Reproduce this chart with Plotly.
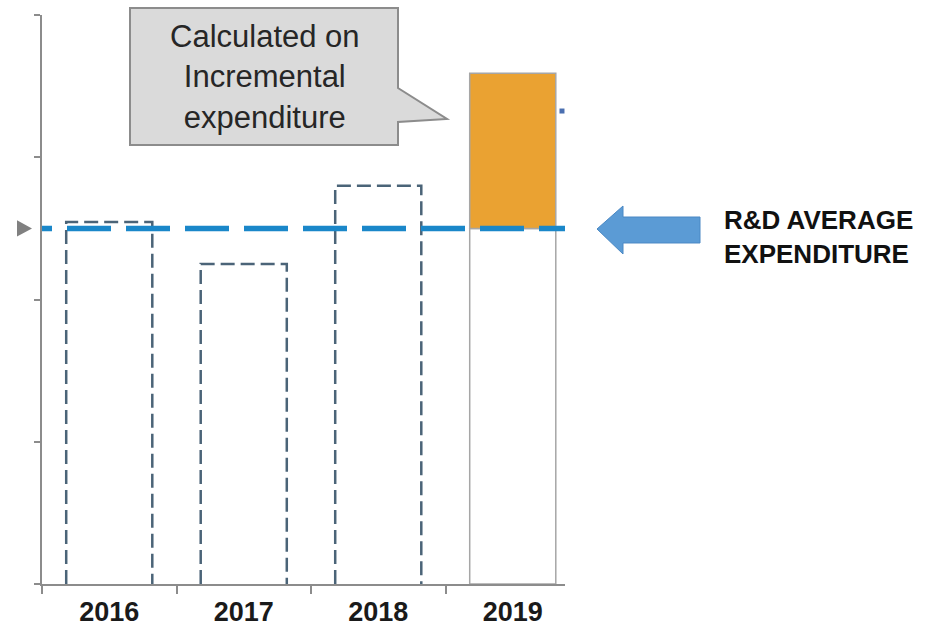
import plotly.graph_objects as go

# --- data -------------------------------------------------------------
years = ["2016", "2017", "2018", "2019"]
year_pos = [0, 1, 2, 3]
spend = [2.545, 2.25, 2.80, 3.59]          # R&D expenditure per year
average_spend = 2.50                       # R&D average expenditure
stub_x = [3.366]                           # small blue mark at the right edge
stub_y = [3.325]
y_ticks = [0, 1, 2, 3, 4]

# --- layout geometry (pixels) ----------------------------------------
W, H = 940, 627
ML, MR, MT, MB = 42, 375, 15, 43
PW, PH = W - ML - MR, H - MT - MB
X_MIN = -0.5
PX_PER_CAT = 134.5
X_MAX = X_MIN + PW / PX_PER_CAT
Y_MAX = 4
BAR_W = 0.64


def xp(px):
    return (px - ML) / PW


def yp(py):
    return (H - MB - py) / PH


def px_to_x(px):
    return X_MIN + (px - ML) / PX_PER_CAT


fig = go.Figure()

# dashed outlines for the prior years
for pos, val in zip(year_pos[:3], spend[:3]):
    x0, x1 = pos - BAR_W / 2, pos + BAR_W / 2
    fig.add_trace(go.Scatter(
        x=[x0, x0, x1, x1], y=[0, val, val, 0], mode="lines",
        line=dict(color="#4b6478", width=2.5, dash="14px,6px"),
        hoverinfo="skip", showlegend=False))

# 2019: base up to the average plus the incremental part on top
fig.add_trace(go.Bar(
    x=[year_pos[3]], y=[average_spend], width=BAR_W,
    marker=dict(color="white", line=dict(color="#a6a6a6", width=1.5)),
    showlegend=False))
fig.add_trace(go.Bar(
    x=[year_pos[3]], y=[spend[3] - average_spend], base=[average_spend],
    width=BAR_W,
    marker=dict(color="#eaa232", line=dict(color="#a6a6a6", width=1.5)),
    showlegend=False))

# average expenditure line (starts left of the axis so the dash phase lines up)
fig.add_trace(go.Scatter(
    x=[px_to_x(8), X_MAX], y=[average_spend, average_spend], mode="lines",
    line=dict(color="#1a87c9", width=5.5, dash="44px,15px"),
    hoverinfo="skip", showlegend=False))

fig.add_trace(go.Scatter(
    x=stub_x, y=stub_y, mode="markers",
    marker=dict(symbol="square", size=5, color="#4a6fb0"),
    cliponaxis=False, hoverinfo="skip", showlegend=False))

# grey pointer left of the y axis at the average level
avg_py = (H - MB) - average_spend / Y_MAX * PH
pointer = [(17, avg_py - 8), (32, avg_py), (17, avg_py + 8)]
pointer_path = "M " + " L ".join(f"{xp(a):.5f},{yp(b):.5f}" for a, b in pointer) + " Z"

# callout box with tail
callout = [(130, 8), (398, 8), (398, 88), (447, 119), (398, 122),
           (398, 145), (130, 145)]
callout_path = "M " + " L ".join(f"{xp(a):.5f},{yp(b):.5f}" for a, b in callout) + " Z"

# block arrow pointing at the average line
arrow = [(597, 229), (623, 206), (623, 217), (700, 217), (700, 243),
         (623, 243), (623, 254)]
arrow_path = "M " + " L ".join(f"{xp(a):.5f},{yp(b):.5f}" for a, b in arrow) + " Z"

fig.update_layout(
    width=W, height=H,
    margin=dict(l=ML, r=MR, t=MT, b=MB),
    paper_bgcolor="white", plot_bgcolor="white",
    barmode="overlay",
    font=dict(family="Liberation Sans, Arial, sans-serif", color="#1a1a1a"),
    xaxis=dict(
        range=[X_MIN, X_MAX], tickvals=year_pos, ticktext=years,
        ticks="", showgrid=False, zeroline=False, automargin=False,
        showline=True, linecolor="#8c8c8c", linewidth=1.5,
        tickfont=dict(size=27, weight="bold", color="#1a1a1a"),
        ticklabelstandoff=3,
        minor=dict(tickvals=[-0.5, 0.5, 1.5, 2.5], ticks="outside",
                   ticklen=8, tickcolor="#8c8c8c", tickwidth=1.5),
    ),
    yaxis=dict(
        range=[0, Y_MAX], tickvals=y_ticks, showticklabels=False,
        ticks="outside", ticklen=6, tickcolor="#8c8c8c", tickwidth=1.5,
        showgrid=False, zeroline=False, automargin=False,
        showline=True, linecolor="#8c8c8c", linewidth=1.5,
    ),
    shapes=[
        dict(type="path", xref="paper", yref="paper", path=pointer_path,
             fillcolor="#808080", line=dict(width=0), layer="above"),
        dict(type="path", xref="paper", yref="paper", path=callout_path,
             fillcolor="#dadada", line=dict(color="#8c8c8c", width=2),
             layer="above"),
        dict(type="path", xref="paper", yref="paper", path=arrow_path,
             fillcolor="#5b9bd5", line=dict(color="#4a88c4", width=1),
             layer="above"),
    ],
    annotations=[
        dict(xref="paper", yref="paper", x=xp(265), y=yp(77),
             text="Calculated on<br>Incremental<br>expenditure",
             showarrow=False, xanchor="center", yanchor="middle",
             align="center",
             font=dict(size=31, color="#262626")),
        dict(xref="paper", yref="paper", x=xp(722), y=yp(237),
             text="R&amp;D AVERAGE<br>EXPENDITURE",
             showarrow=False, xanchor="left", yanchor="middle",
             align="left",
             font=dict(size=26, weight="bold", color="#111111")),
    ],
)

fig.write_html("out.html")
